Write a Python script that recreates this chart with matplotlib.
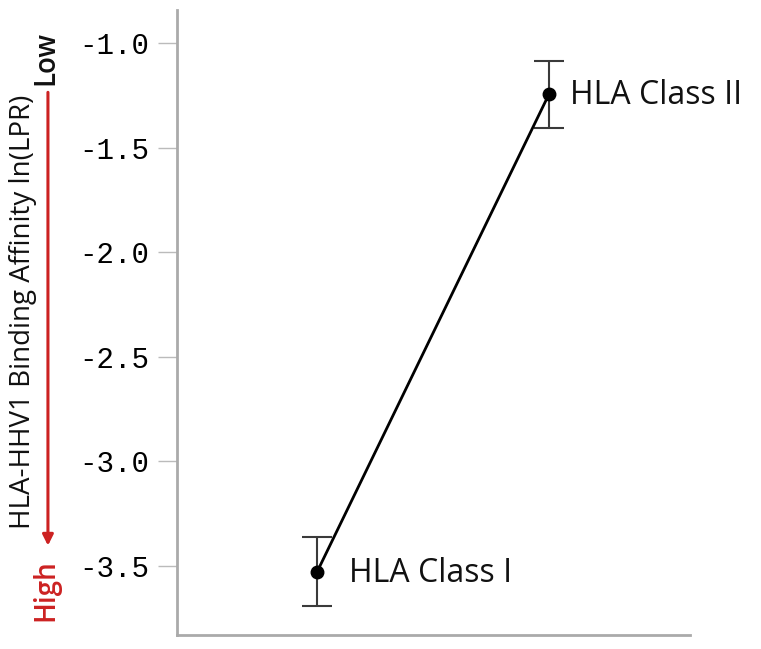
import matplotlib
matplotlib.use("Agg")
import matplotlib.pyplot as plt
from matplotlib.patches import FancyArrowPatch

categories = ["HLA Class I", "HLA Class II"]
means = [-3.53, -1.245]
err_low = [-3.69, -1.405]
err_high = [-3.36, -1.085]
yticks = [-1.0, -1.5, -2.0, -2.5, -3.0, -3.5]

fig = plt.figure(figsize=(7.61, 6.49), dpi=100)
ax = fig.add_axes([0.2326, 0.0216, 0.6741, 0.963])

x = list(range(len(categories)))
yerr = [[m - l for m, l in zip(means, err_low)], [h - m for m, h in zip(means, err_high)]]
ax.errorbar(x, means, yerr=yerr, fmt='none', ecolor='#3a3a3a', elinewidth=1.5,
            capsize=11, capthick=1.5, zorder=2)
ax.plot(x, means, '-', color='black', lw=2, zorder=3)
ax.plot(x, means, 'o', color='black', ms=9, zorder=4)
label_offsets = [23, 15]
for xi, m, c, off in zip(x, means, categories, label_offsets):
    ax.annotate(c, (xi, m), xytext=(off, -1), textcoords='offset points',
                ha='left', va='center', fontsize=23, family='Open Sans',
                fontweight='medium', color='#111111')

ax.set_xlim(-0.603, 1.608)
ax.set_ylim(-3.83, -0.842)
ax.set_yticks(yticks)
ax.set_yticklabels([f"{v:.1f}" for v in yticks], family='Liberation Mono', fontsize=21)
ax.set_xticks([])
for s in ['top', 'right']:
    ax.spines[s].set_visible(False)
for s in ['left', 'bottom']:
    ax.spines[s].set_color('#aaaaaa')
    ax.spines[s].set_linewidth(2)
ax.tick_params(axis='y', length=14, width=1, color='#bbbbbb', pad=6)

fig.text(0.030, 0.519, "HLA-HHV1 Binding Affinity ln(LPR)", rotation=90, ha='center', va='center',
         fontsize=20, family='Open Sans', fontweight='medium', color='#111111')
fig.text(0.060, 0.910, "Low", rotation=90, ha='center', va='center', fontsize=20,
         family='Open Sans', fontweight='semibold', color='#111111')
fig.text(0.060, 0.090, "High", rotation=90, ha='center', va='center', fontsize=20,
         family='Open Sans', fontweight='semibold', color='#cc2222')
arrow = FancyArrowPatch((0.063, 0.862), (0.063, 0.155), transform=fig.transFigure,
                        arrowstyle='-|>', mutation_scale=16, color='#cc2222', lw=2.2)
fig.patches.append(arrow)

fig.savefig("out.png", dpi=100)
